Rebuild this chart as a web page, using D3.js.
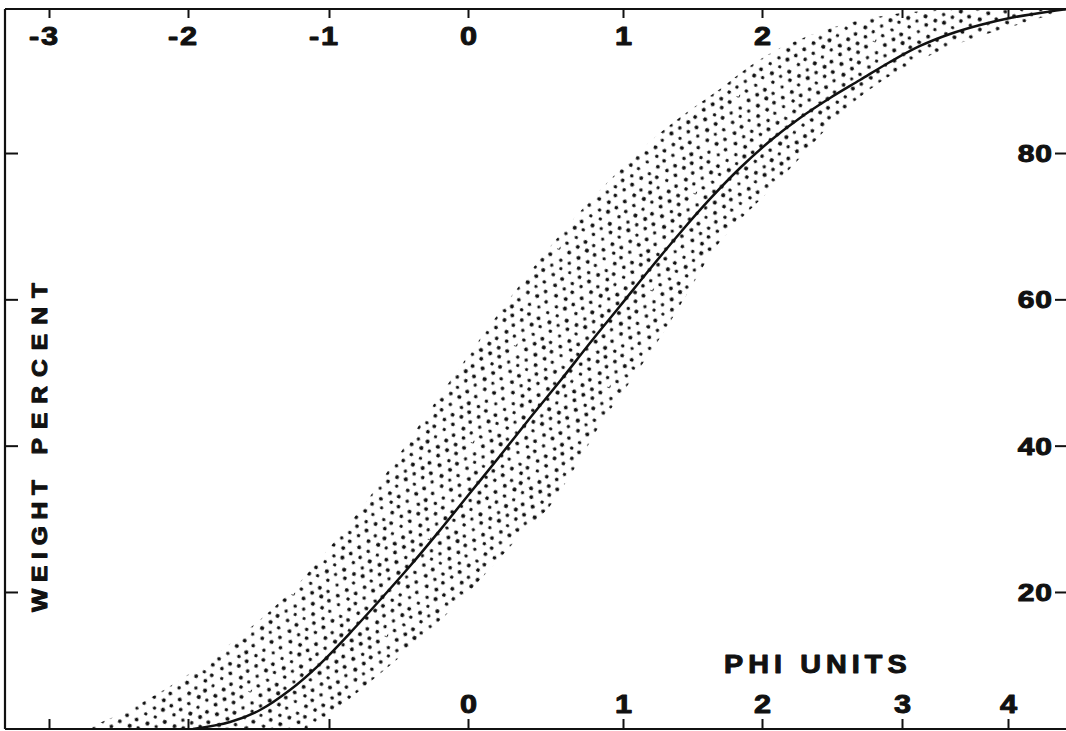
<!DOCTYPE html>
<html>
<head>
<meta charset="utf-8">
<script src="https://cdn.jsdelivr.net/npm/d3@7"></script>
<style>
  html, body { margin: 0; padding: 0; background: #fff; }
  svg { display: block; }
  .lbl { font-family: "Liberation Sans", Arial, Helvetica, sans-serif; font-weight: bold; fill: #111; stroke: #111; stroke-width: 1px; stroke-linejoin: round; }
</style>
</head>
<body>
<svg id="chart" width="1066" height="731"></svg>
<script>
// ---------------- data ----------------
const phiTicks = [-3, -2, -1, 0, 1, 2, 3, 4];
const topTickLabels = ["-3", "-2", "-1", "0", "1", "2"];      // shown on top edge
const bottomTickLabels = ["0", "1", "2", "3", "4"];           // shown on bottom edge
const percentTicks = [20, 40, 60, 80];
const xTitle = "PHI UNITS";
const yTitleA = "WEIGHT";
const yTitleB = "PERCENT";

// central cumulative curve (phi, weight percent)
const curvePhi = [-1.965, -1.702, -1.489, -1.277, -1.064, -0.849, -0.633, -0.417, -0.201, 0.013, 0.206, 0.400, 0.594, 0.787, 0.981, 1.194, 1.410, 1.626, 1.842, 2.057, 2.271, 2.486, 2.700, 2.914, 3.170, 3.453, 3.736, 4.019, 4.302, 4.547, 4.80];
const curvePct = [1.27, 2.23, 3.87, 6.60, 10.15, 14.39, 18.90, 23.55, 28.46, 33.53, 38.58, 43.78, 48.83, 54.03, 59.09, 64.15, 69.07, 73.72, 77.95, 81.64, 84.79, 87.52, 89.98, 92.44, 94.63, 96.27, 97.50, 98.46, 99.13, 99.67, 100.2];

// envelope: fine (upper-left) limit
const finePhi = [-2.85, -2.719, -2.489, -2.273, -2.058, -1.844, -1.631, -1.418, -1.206, -0.993, -0.777, -0.561, -0.345, -0.129, 0.077, 0.271, 0.465, 0.658, 0.852, 1.050, 1.266, 1.482, 1.698, 1.914, 2.129, 2.343, 2.557, 2.771, 2.986, 3.264, 3.547, 4.5, 5.0];
const finePct = [-0.8, 1.27, 3.32, 5.51, 7.97, 10.84, 13.98, 17.40, 21.37, 26.15, 31.20, 36.94, 42.96, 48.83, 54.57, 60.18, 65.51, 70.43, 74.94, 79.04, 82.73, 85.87, 88.74, 91.88, 94.34, 96.11, 97.48, 98.44, 99.12, 99.53, 99.95, 101, 101.5];
// envelope: coarse (lower-right) limit
const coarsePhi = [-1.2, -1.135, -0.921, -0.705, -0.489, -0.273, -0.058, 0.142, 0.335, 0.529, 0.690, 0.852, 1.050, 1.266, 1.482, 1.662, 1.842, 2.057, 2.271, 2.486, 2.700, 2.914, 3.170, 3.453, 3.736, 4.019, 4.302, 4.547, 4.774];
const coarsePct = [-0.8, 1.0, 4.28, 7.70, 11.11, 14.80, 18.77, 23.14, 27.65, 31.75, 36.94, 42.82, 48.70, 54.71, 61.41, 67.01, 70.84, 74.94, 79.31, 83.82, 87.65, 90.52, 92.71, 94.49, 95.99, 97.22, 98.45, 99.54, 100.23];

// ---------------- layout ----------------
const W = 1066, H = 731;
const frame = { left: 5, right: 1066, top: 9, bottom: 729 };
const ink = "#111";

const svg = d3.select("#chart");

// the original's phi ruling is hand-drawn and slightly uneven
const x = d3.scaleLinear()
  .domain(phiTicks)
  .range([49, 188, 329, 468, 623, 762, 902, 1008]);
const y = d3.scaleLinear().domain([0, 100]).range([738.3, 6.7]);

// stipple texture: hexagonal dot screen with a small deterministic wobble
const defs = svg.append("defs");
const sp = 10.2, rowH = sp * Math.sqrt(3) / 2;
const nCols = 10, nRows = 12;
const tileW = sp * nCols, tileH = rowH * nRows;
const pat = defs.append("pattern")
  .attr("id", "stipple")
  .attr("patternUnits", "userSpaceOnUse")
  .attr("width", tileW).attr("height", tileH)
  .attr("patternTransform", "rotate(24)");
function hash(i, j, k) {
  const s = Math.sin(i * 12.9898 + j * 78.233 + k * 37.719) * 43758.5453;
  return s - Math.floor(s);
}
const dots = [];
for (let r = 0; r < nRows; r++) {
  for (let c = 0; c < nCols; c++) {
    const jx = (hash(c, r, 1) - 0.5) * 2.2, jy = (hash(c, r, 2) - 0.5) * 2.2;
    const cx = c * sp + (r % 2 ? sp / 2 : 0) + jx;
    const cy = r * rowH + jy;
    const rad = 1.6 + hash(c, r, 3) * 0.5;
    // draw with wrap-around copies so the tile stays seamless
    [[0, 0], [tileW, 0], [-tileW, 0], [0, tileH], [0, -tileH]].forEach(([ox, oy]) => dots.push([cx + ox, cy + oy, rad]));
  }
}
pat.selectAll("circle").data(dots).join("circle")
  .attr("cx", d => d[0]).attr("cy", d => d[1]).attr("r", d => d[2]).attr("fill", ink);

defs.append("clipPath").attr("id", "plotclip")
  .append("rect")
  .attr("x", frame.left).attr("y", frame.top)
  .attr("width", frame.right - frame.left).attr("height", frame.bottom - frame.top);

const plot = svg.append("g").attr("clip-path", "url(#plotclip)");

// envelope polygon
const finePts = finePhi.map((p, i) => [x(p), y(finePct[i])]);
const coarsePts = coarsePhi.map((p, i) => [x(p), y(coarsePct[i])]);
const bandPts = finePts.concat(coarsePts.slice().reverse());
plot.append("path")
  .attr("d", d3.line().curve(d3.curveCatmullRomClosed.alpha(0.5))(bandPts))
  .attr("fill", "url(#stipple)")
  .attr("stroke", "none");

// central curve
const curvePts = curvePhi.map((p, i) => [x(p), y(curvePct[i])]);
plot.append("path")
  .attr("d", d3.line().curve(d3.curveCatmullRom.alpha(0.5))(curvePts))
  .attr("fill", "none")
  .attr("stroke", ink)
  .attr("stroke-width", 2.5);

// frame lines
const frameG = svg.append("g").attr("stroke", ink).attr("stroke-width", 2.2);
frameG.append("line").attr("x1", frame.left).attr("x2", frame.right).attr("y1", frame.top).attr("y2", frame.top);
frameG.append("line").attr("x1", frame.left).attr("x2", frame.right).attr("y1", frame.bottom).attr("y2", frame.bottom);
frameG.append("line").attr("x1", frame.left).attr("x2", frame.left).attr("y1", frame.top).attr("y2", frame.bottom);

const labelFont = 26;
const sx = 1.18;          // printed lettering is wider than Arial
const ls = 1.5;
const adv = 0.556 * labelFont;

function styleAxis(g) {
  g.select(".domain").remove();
  g.selectAll(".tick line").attr("stroke", ink).attr("stroke-width", 2);
  g.selectAll(".tick text")
    .attr("class", "lbl")
    .attr("font-size", labelFont)
    .attr("fill", ink)
    .style("letter-spacing", ls + "px");
}
function centerDigits(g) {
  g.selectAll(".tick text").each(function (d) {
    const t = d3.select(this);
    t.attr("transform", `scale(${sx},1)`);
    if (d < 0) t.attr("text-anchor", "end").attr("x", ls + adv / 2);
    else t.attr("text-anchor", "middle").attr("x", ls / 2);
  });
}

// top ruling
const topAxis = svg.append("g")
  .attr("transform", `translate(0,${frame.top})`)
  .call(d3.axisBottom(x).tickValues(phiTicks).tickSize(9).tickPadding(8.5)
    .tickFormat(d => topTickLabels.includes(String(d)) ? String(d) : ""));
styleAxis(topAxis);
centerDigits(topAxis);

// bottom ruling
const botAxis = svg.append("g")
  .attr("transform", `translate(0,${frame.bottom})`)
  .call(d3.axisTop(x).tickValues(phiTicks).tickSize(10).tickPadding(6)
    .tickFormat(d => bottomTickLabels.includes(String(d)) ? String(d) : ""));
styleAxis(botAxis);
centerDigits(botAxis);

// right percent scale
const rsx = 1.25, rls = 0.8;
const rightAxis = svg.append("g")
  .attr("transform", `translate(${frame.right},0)`)
  .call(d3.axisLeft(y).tickValues(percentTicks).tickSize(11).tickPadding(3).tickFormat(d3.format("d")));
styleAxis(rightAxis);
rightAxis.selectAll(".tick text")
  .attr("font-size", 24)
  .style("letter-spacing", rls + "px")
  .attr("dy", "0.36em")
  .attr("transform", `scale(${rsx},1)`)
  .attr("x", rls - 14 / rsx);

// left ticks (no labels)
const leftAxis = svg.append("g")
  .attr("transform", `translate(${frame.left},0)`)
  .call(d3.axisRight(y).tickValues(percentTicks).tickSize(13).tickFormat(""));
styleAxis(leftAxis);

// titles
svg.append("text")
  .attr("class", "lbl")
  .attr("transform", "translate(724,673) scale(1.15,1)")
  .attr("font-size", 25)
  .style("letter-spacing", "4.4px")
  .text(xTitle);

svg.append("text")
  .attr("class", "lbl")
  .attr("transform", "translate(47,612) rotate(-90) scale(1.12,1)")
  .attr("font-size", 22)
  .style("letter-spacing", "6px")
  .text(yTitleA);
svg.append("text")
  .attr("class", "lbl")
  .attr("transform", "translate(47,283) rotate(-90) scale(1.12,1)")
  .attr("text-anchor", "end")
  .attr("x", 8)
  .attr("font-size", 22)
  .style("letter-spacing", "8px")
  .text(yTitleB);
</script>
</body>
</html>
